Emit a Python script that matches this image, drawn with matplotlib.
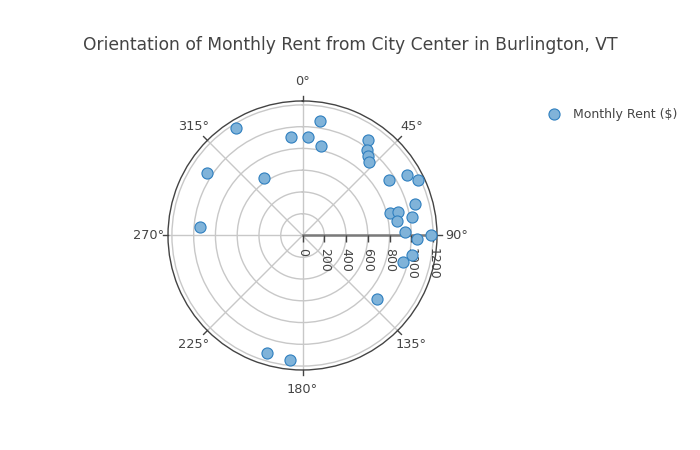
import numpy as np
import matplotlib
matplotlib.use("Agg")
import matplotlib.pyplot as plt
from matplotlib.transforms import offset_copy

# orientation (deg, clockwise from north) and monthly rent ($)
angles = [8.7, 353.3, 3.2, 11.9, 328.3, 303.4, 326.2, 275.0,
          34.3, 37.2, 39.3, 42.2, 57.2, 59.8, 64.4, 74.4,
          75.5, 75.9, 81.4, 80.5, 88.0, 90.0, 92.0, 100.2,
          104.7, 130.6, 196.9, 185.6]
rents = [1061, 908, 910, 837, 1157, 1050, 640, 944,
         1066, 983, 949, 908, 948, 1113, 1172, 1075,
         829, 901, 880, 1021, 938, 1179, 1051, 1018,
         953, 897, 1129, 1150]

r_ticks = [0, 200, 400, 600, 800, 1000, 1200]
theta_ticks = [0, 45, 90, 135, 180, 225, 270, 315]
theta_labels = ["0°", "45°", "90°", "135°", "180°", "225°", "270°", "315°"]
R_MAX = 1236

TXT = "#444444"
GRID = "#c8c8c8"

fig = plt.figure(figsize=(7, 4.5), dpi=100)
ax = fig.add_axes([0.24, 0.1778, 0.3843, 0.5978], projection="polar")
ax.set_theta_zero_location("N")
ax.set_theta_direction(-1)
ax.set_rlim(0, R_MAX)

ax.set_xticks(np.deg2rad(theta_ticks))
ax.set_xticklabels(theta_labels)
ax.set_yticks(r_ticks)
ax.set_yticklabels([])
ax.grid(True, color=GRID, lw=1)
ax.tick_params(axis="x", colors=TXT, labelsize=9.3, pad=7, length=0)
ax.tick_params(axis="y", length=0)
ax.spines["polar"].set_color(TXT)
ax.spines["polar"].set_linewidth(1)

# angular tick marks outside the circle
for t in theta_ticks:
    ax.plot([np.deg2rad(t)] * 2, [R_MAX, R_MAX * 1.04], color=TXT, lw=1,
            clip_on=False, zorder=2)

# radial axis line along 90 deg
ax.axvline(np.pi / 2, color="#7a7a7a", lw=1.8, zorder=2)
ax.plot(np.full(len(r_ticks), np.pi / 2), r_ticks, ls="none", marker=3,
        ms=5, mew=1, color=TXT, clip_on=False, zorder=2)
lab_tr = offset_copy(ax.transData, fig=fig, y=-13, units="dots")
for r in r_ticks:
    ax.text(np.pi / 2, r, str(r), rotation=-90, ha="center", va="top",
            fontsize=9, color=TXT, transform=lab_tr)

ax.plot(np.deg2rad(angles), rents, ls="none", marker="o", ms=8,
        mfc="#80b3d9", mec="#2f7fbf", mew=0.8,
        label="Monthly Rent ($)", zorder=3, clip_on=False)

fig.legend(loc="upper left", bbox_to_anchor=(0.764, 0.785), frameon=False,
           fontsize=9, labelcolor=TXT, numpoints=1, handlelength=1.2,
           handletextpad=0.95)

fig.text(0.5, 0.9, "Orientation of Monthly Rent from City Center in Burlington, VT",
         ha="center", va="center", fontsize=12.3, color=TXT)

fig.savefig("out.png", dpi=100)
